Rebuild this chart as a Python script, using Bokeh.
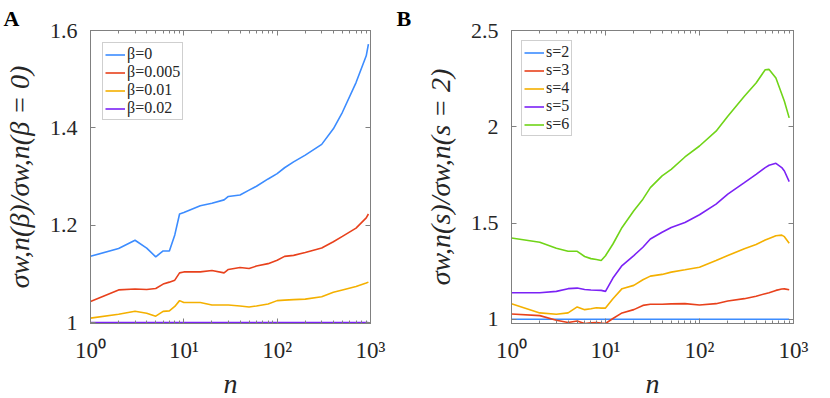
from bokeh.plotting import figure
from bokeh.models import (LogAxis, LinearAxis, LogTicker, FixedTicker,
                          Legend, LegendItem, Range1d, Title)
from bokeh.layouts import row
from bokeh.embed import file_html
from bokeh.resources import INLINE

# ---------------- data ----------------
# Panel A: sigma_{w,n}(beta) / sigma_{w,n}(beta=0) versus n
nA = [1, 2, 3, 4, 5, 6, 7, 8, 9, 10, 15, 20, 27, 30, 40, 50, 60, 80, 100, 120,
      150, 200, 300, 400, 500, 700, 900, 950]
beta_0 = [1.136, 1.152, 1.169, 1.153, 1.135, 1.147, 1.147, 1.180, 1.223, 1.226,
          1.240, 1.245, 1.252, 1.259, 1.262, 1.272, 1.280, 1.295, 1.306, 1.318,
          1.330, 1.344, 1.366, 1.398, 1.432, 1.493, 1.548, 1.572]
beta_0005 = [1.043, 1.067, 1.069, 1.068, 1.070, 1.079, 1.083, 1.087, 1.102, 1.104,
             1.104, 1.107, 1.102, 1.109, 1.113, 1.111, 1.116, 1.121, 1.128, 1.136,
             1.138, 1.144, 1.153, 1.166, 1.177, 1.194, 1.215, 1.223]
beta_001 = [1.009, 1.017, 1.023, 1.019, 1.013, 1.023, 1.024, 1.033, 1.045, 1.041,
            1.041, 1.036, 1.036, 1.036, 1.034, 1.032, 1.034, 1.038, 1.045, 1.046,
            1.047, 1.048, 1.053, 1.062, 1.067, 1.074, 1.081, 1.083]
beta_002 = [1.0] * len(nA)
labels_A = ["β=0", "β=0.005", "β=0.01", "β=0.02"]

# Panel B: sigma_{w,n}(s) / sigma_{w,n}(s=2) versus n
nB = [1, 2, 3, 4, 5, 6, 7, 8, 9, 10, 12, 15, 20, 25, 30, 40, 50, 70, 100, 150,
      200, 300, 400, 500, 550, 650, 750, 800, 900]
s_2 = [1.0] * len(nB)
s_3 = [1.027, 1.019, 0.995, 0.983, 0.991, 0.978, 0.982, 0.983, 0.980, 0.978,
       1.004, 1.033, 1.050, 1.072, 1.078, 1.078, 1.080, 1.081, 1.074, 1.081,
       1.095, 1.107, 1.120, 1.133, 1.138, 1.150, 1.157, 1.158, 1.153]
s_4 = [1.081, 1.033, 1.026, 1.033, 1.064, 1.050, 1.055, 1.060, 1.058, 1.058,
       1.107, 1.159, 1.176, 1.205, 1.224, 1.233, 1.245, 1.257, 1.270, 1.305,
       1.331, 1.366, 1.388, 1.412, 1.420, 1.434, 1.437, 1.429, 1.395]
s_5 = [1.138, 1.138, 1.145, 1.159, 1.162, 1.155, 1.152, 1.151, 1.150, 1.145,
       1.214, 1.279, 1.331, 1.374, 1.417, 1.452, 1.477, 1.503, 1.543, 1.598,
       1.650, 1.710, 1.753, 1.788, 1.800, 1.810, 1.788, 1.770, 1.715]
s_6 = [1.422, 1.400, 1.369, 1.353, 1.353, 1.326, 1.315, 1.310, 1.305, 1.330,
       1.391, 1.477, 1.564, 1.624, 1.684, 1.745, 1.779, 1.843, 1.900, 1.977,
       2.055, 2.158, 2.227, 2.296, 2.298, 2.253, 2.170, 2.132, 2.046]
labels_B = ["s=2", "s=3", "s=4", "s=5", "s=6"]

x_ticks = [1, 10, 100, 1000]
x_tick_labels = ["10⁰", "10¹", "10²", "10³"]
yA_ticks = [1, 1.2, 1.4, 1.6]
yA_tick_labels = ["1", "1.2", "1.4", "1.6"]
yB_ticks = [1, 1.5, 2, 2.5]
yB_tick_labels = ["1", "1.5", "2", "2.5"]

colors_A = ["#3c8cff", "#e8411c", "#f4b000", "#7b22f5"]
colors_B = ["#3c8cff", "#e8411c", "#f4b000", "#7b22f5", "#70d418"]

SERIF = "'Liberation Serif', serif"
AX_COL = "#808080"
TXT_COL = "#262626"


def hide_labels(ax, ticks):
    ax.major_label_overrides = {float(t): " " for t in ticks}
    ax.major_label_text_font_size = "1px"
    ax.major_label_standoff = 0


def make_fig(yr, fw, fh, bl, br, bt, bb, yticks, ylabels, ylab, panel):
    p = figure(x_axis_type="log", x_range=Range1d(1, 1000), y_range=Range1d(*yr),
               frame_width=fw, frame_height=fh, min_border_left=bl,
               min_border_right=br, min_border_top=bt, min_border_bottom=bb,
               output_backend="svg", toolbar_location=None)
    p.grid.visible = False
    p.outline_line_color = AX_COL
    xa = p.xaxis[0]
    xa.ticker = LogTicker(desired_num_ticks=4, num_minor_ticks=10)
    xa.major_label_overrides = {float(t): l for t, l in zip(x_ticks, x_tick_labels)}
    xa.major_label_text_font = SERIF
    xa.major_label_text_font_size = "23px"
    xa.major_label_text_color = TXT_COL
    xa.major_label_standoff = 14
    xa.axis_label = "n"
    xa.axis_label_text_font = SERIF
    xa.axis_label_text_font_style = "italic"
    xa.axis_label_text_font_size = "28px"
    xa.axis_label_text_color = TXT_COL
    xa.axis_label_standoff = 2
    ya = p.yaxis[0]
    ya.ticker = FixedTicker(ticks=yticks)
    ya.major_label_overrides = {float(t): l for t, l in zip(yticks, ylabels)}
    ya.major_label_text_font = SERIF
    ya.major_label_text_font_size = "22px"
    ya.major_label_text_color = TXT_COL
    ya.major_label_standoff = 13
    ya.axis_label = ylab
    ya.axis_label_text_font = SERIF
    ya.axis_label_text_font_style = "italic"
    ya.axis_label_text_font_size = "28px"
    ya.axis_label_text_color = TXT_COL
    ya.axis_label_standoff = 12
    top = LogAxis(ticker=LogTicker(desired_num_ticks=4, num_minor_ticks=10))
    right = LinearAxis(ticker=FixedTicker(ticks=yticks))
    hide_labels(top, x_ticks)
    hide_labels(right, yticks)
    p.add_layout(top, "above")
    p.add_layout(right, "right")
    for ax in [xa, ya, top, right]:
        ax.axis_line_color = AX_COL
        ax.major_tick_line_color = AX_COL
        ax.minor_tick_line_color = AX_COL
        ax.major_tick_in = 5
        ax.major_tick_out = 0
        ax.minor_tick_in = 3
        ax.minor_tick_out = 0
    ya.minor_tick_line_color = None
    right.minor_tick_line_color = None
    t = Title(text=panel, align="left", offset=-bl + 2, text_font=SERIF,
              text_font_size="22px", text_font_style="bold", text_color="black",
              standoff=-9)
    p.add_layout(t, "above")
    return p


def make_legend(items, margin):
    return Legend(items=items, location="top_left", margin=margin, padding=2,
                  spacing=0, label_text_font=SERIF, label_text_font_size="16px",
                  label_text_color=TXT_COL, label_height=15, glyph_height=15,
                  glyph_width=20, label_standoff=2, border_line_color="#a0a0a0",
                  background_fill_alpha=1.0)


pA = make_fig((0.998, 1.6), 280, 293, 89, 24, 30, 72, yA_ticks, yA_tick_labels,
              "σw,n(β)/σw,n(β = 0)", "A")
itemsA = []
for ys, c, lab in zip([beta_0, beta_0005, beta_001, beta_002], colors_A, labels_A):
    r = pA.line(nA, ys, line_color=c, line_width=1.6)
    itemsA.append(LegendItem(label=lab, renderers=[r]))
pA.add_layout(make_legend(itemsA, 12), "center")

pB = make_fig((0.978, 2.5), 282, 293, 117, 30, 30, 72, yB_ticks, yB_tick_labels,
              "σw,n(s)/σw,n(s = 2)", "B")
itemsB = []
for ys, c, lab in zip([s_2, s_3, s_4, s_5, s_6], colors_B, labels_B):
    r = pB.line(nB, ys, line_color=c, line_width=1.6)
    itemsB.append(LegendItem(label=lab, renderers=[r]))
pB.add_layout(make_legend(itemsB, 10), "center")

layout = row(pA, pB)
open("out.html", "w").write(file_html(layout, INLINE))
